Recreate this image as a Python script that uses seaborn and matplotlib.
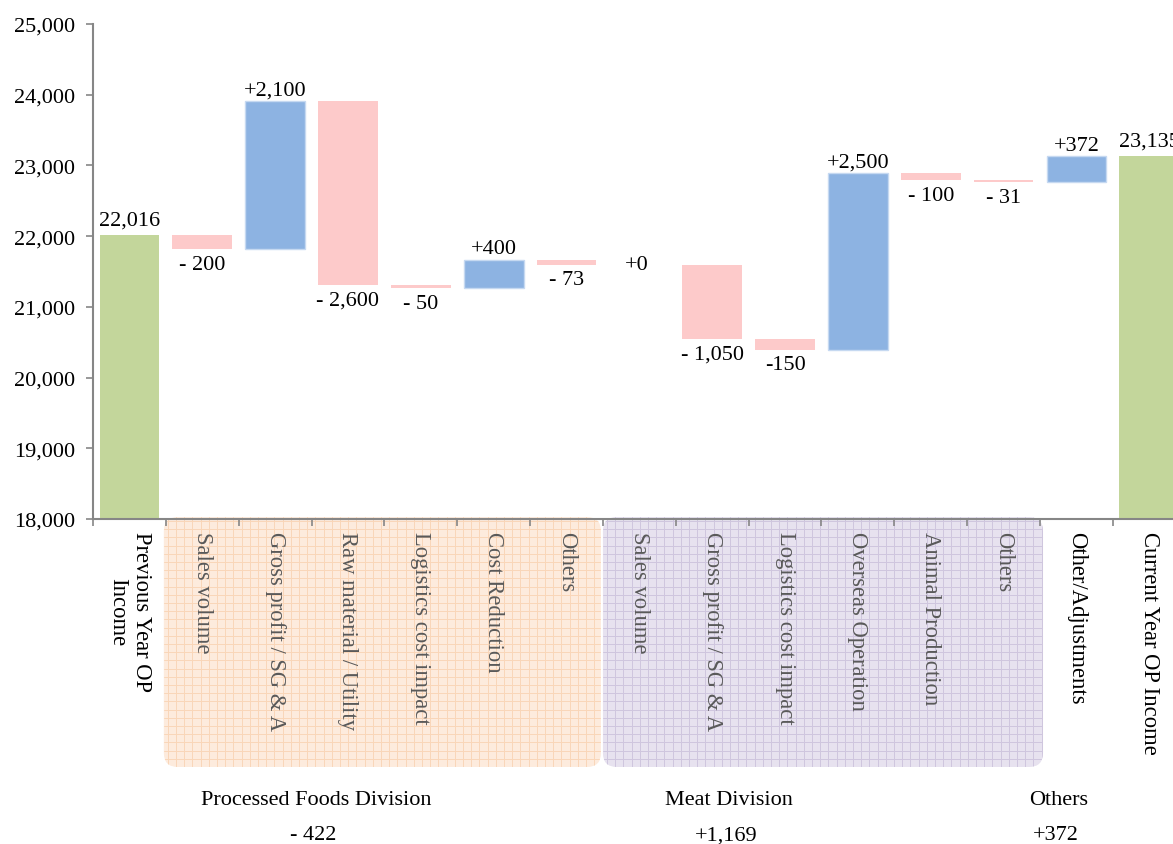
import numpy as np
import pandas as pd
import matplotlib
matplotlib.use("Agg")
import matplotlib.pyplot as plt
import matplotlib.transforms as mtransforms
from matplotlib.patches import FancyBboxPatch
from matplotlib.ticker import FuncFormatter
import seaborn as sns

# ---------------- data ----------------
categories = [
    "Previous Year OP\nIncome",
    "Sales volume", "Gross profit / SG & A", "Raw material / Utility",
    "Logistics cost impact", "Cost Reduction", "Others",
    "Sales volume", "Gross profit / SG & A", "Logistics cost impact",
    "Overseas Operation", "Animal Production", "Others",
    "Other/Adjustments", "Current Year OP Income",
]
changes = [22016, -200, 2100, -2600, -50, 400, -73,
           0, -1050, -150, 2500, -100, -31, 372, 23135]
kinds = ["total"] + ["delta"] * 13 + ["total"]
bar_labels = ["22,016", "- 200", "+2,100", "- 2,600", "- 50", "+400", "- 73",
              "+0", "- 1,050", "-150", "+2,500", "- 100", "- 31", "+372", "23,135"]
label_group = ["outer"] + ["proc"] * 6 + ["meat"] * 6 + ["outer", "outer"]
group_names = ["Processed Foods Division", "Meat Division", "Others"]
group_totals = ["- 422", "+1,169", "+372"]
y_ticks = [18000, 19000, 20000, 21000, 22000, 23000, 24000, 25000]

# ---------------- styles ----------------
sns.set_style("ticks")
plt.rcParams["font.family"] = ["Liberation Serif", "DejaVu Serif"]

C_TOTAL = "#C3D69B"
C_POS = "#8DB3E2"
C_NEG = "#FDCACA"
AX_GRAY = "#868686"

# waterfall geometry computed from the data
bottoms, heights, colors, levels = [], [], [], []
running = 0
for k, v in zip(kinds, changes):
    if k == "total":
        bottoms.append(0)
        heights.append(v)
        colors.append(C_TOTAL)
        running = v
    else:
        new = running + v
        bottoms.append(min(running, new))
        heights.append(abs(v))
        colors.append(C_POS if v > 0 else C_NEG)
        running = new
    levels.append(running)

df = pd.DataFrame({"pos": np.arange(len(categories)), "height": heights})

W, H = 1173, 845
fig = plt.figure(figsize=(W / 100, H / 100), dpi=100)
ax = fig.add_axes([93 / W, 1 - 520 / H, (1185.7 - 93) / W, 495 / H])
ax.set_zorder(2)
ax.patch.set_visible(False)

sns.barplot(data=df, x="pos", y="height", bottom=np.array(bottoms),
            color=C_TOTAL, width=0.82, errorbar=None, ax=ax, linewidth=0)
for p, c in zip(ax.patches, colors):
    p.set_facecolor(c)
    if c == C_POS:
        p.set_edgecolor("#C6D9F1")
        p.set_linewidth(1.0)

ax.set_xlim(-0.5, len(categories) - 0.5)
ax.set_ylim(y_ticks[0], y_ticks[-1])

# data labels
for i, (k, v, lab) in enumerate(zip(kinds, changes, bar_labels)):
    top = bottoms[i] + heights[i]
    if k == "total":
        ax.annotate(lab, (i, top), xytext=(0, 4), textcoords="offset points",
                    ha="center", va="bottom", fontsize=16, color="black")
    elif v > 0:
        ax.annotate(lab, (i, top), xytext=(0, 1), textcoords="offset points",
                    ha="center", va="bottom", fontsize=16, color="black")
    elif v < 0:
        ax.annotate(lab, (i, bottoms[i]), xytext=(0, -4), textcoords="offset points",
                    ha="center", va="top", fontsize=16, color="black")
    else:
        ax.annotate(lab, (i, levels[i]), xytext=(-2, 0), textcoords="offset points",
                    ha="center", va="center", fontsize=16, color="black")

# axes styling
for s in ["top", "right"]:
    ax.spines[s].set_visible(False)
for s in ["left", "bottom"]:
    ax.spines[s].set_color(AX_GRAY)
    ax.spines[s].set_linewidth(1.5)

ax.set_yticks(y_ticks)
ax.yaxis.set_major_formatter(FuncFormatter(lambda v, _: f"{int(v):,}"))
ax.tick_params(axis="y", direction="out", length=5, width=1.2, color=AX_GRAY,
               labelsize=16, pad=8, labelcolor="black")

ax.set_xticks(np.arange(len(categories)))
ax.set_xticklabels(categories, rotation=-90, va="top", ha="center",
                   multialignment="center", fontsize=16.3)
ax.set_xticks(np.arange(-0.5, len(categories)), minor=True)
ax.tick_params(axis="x", which="major", length=0, pad=9)
ax.tick_params(axis="x", which="minor", direction="out", length=5, width=1.2,
               color=AX_GRAY)
for t, g in zip(ax.get_xticklabels(), label_group):
    t.set_color("black" if g == "outer" else "#595959")
ax.set_xlabel("")
ax.set_ylabel("")

# background group panels (decoration in pixel space)
bg = fig.add_axes([0, 0, 1, 1], zorder=0)
bg.set_xlim(0, W)
bg.set_ylim(0, H)
bg.axis("off")


def px(xd):
    return ax.transData.transform((xd, y_ticks[0]))[0]


panels = [
    (px(0.5) - 2, px(6.5) - 2, "#FDEBDD", "#F9D6B8"),
    (px(6.5), px(12.5) + 3, "#E7E2EF", "#CFC6DE"),
]
y0, y1 = H - 768, H - 518
for x0, x1, fc, lc in panels:
    patch = FancyBboxPatch((x0 + 14, y0 + 14), (x1 - x0) - 28, (y1 - y0) - 28,
                           boxstyle="round,pad=14", fc=fc, ec="none")
    bg.add_patch(patch)
    for gx in np.arange(x0 + 4, x1, 8.2):
        ln, = bg.plot([gx, gx], [y0, y1], color=lc, lw=0.7)
        ln.set_clip_path(patch)
    for gy in np.arange(y1 - 4, y0, -8.2):
        ln, = bg.plot([x0, x1], [gy, gy], color=lc, lw=0.7)
        ln.set_clip_path(patch)

# group summary text below
blend = mtransforms.blended_transform_factory(ax.transData, fig.transFigure)
group_x = [2.56, 8.23, 12.76]
for gx, name, tot in zip(group_x, group_names, group_totals):
    ax.text(gx, 1 - 801 / H, name, transform=blend, ha="center", va="center",
            fontsize=16, color="black", clip_on=False)
    ax.text(gx - 0.04, 1 - 836 / H, tot, transform=blend, ha="center", va="center",
            fontsize=16, color="black", clip_on=False)

fig.savefig("out.png", dpi=100)
